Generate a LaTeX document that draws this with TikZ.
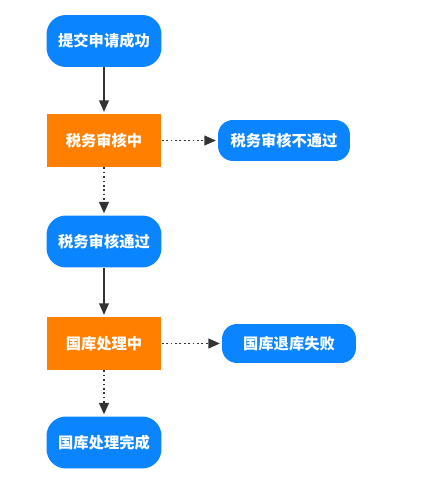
\documentclass[tikz,border=0pt]{standalone}
\usepackage{fontspec}
\newfontfamily\cjk{Noto Sans CJK SC}
\usetikzlibrary{arrows.meta}
\definecolor{stateblue}{HTML}{0A84FF}
\definecolor{steporange}{HTML}{FF8000}
\definecolor{flowgray}{HTML}{333333}
\tikzset{
  state/.style={fill=stateblue, text=white, rounded corners=11pt, inner sep=0pt,
    minimum width=2.3cm, minimum height=1.04cm, font=\cjk\bfseries\fontsize{8.7}{10}\selectfont},
  endstate/.style={state, rounded corners=8.5pt, minimum height=0.8cm},
  stepbox/.style={fill=steporange, text=white, inner sep=0pt,
    minimum width=2.3cm, minimum height=1.06cm, font=\cjk\bfseries\fontsize{8.7}{10}\selectfont},
  flow/.style={draw=flowgray, line width=0.75pt, -{Triangle[length=6.5pt,width=5.5pt]}, shorten >=1pt},
  maybe/.style={flow, line width=1pt, dash pattern=on 1pt off 1.5pt}
}
\begin{document}
\begin{tikzpicture}[x=0.02cm,y=-0.02cm]
\useasboundingbox (0,0) rectangle (431,496);
\node[state] (submitted) at (104,41) {提交申请成功};
\node[stepbox] (taxcheck) at (104,140.5) {税务审核中};
\node[endstate, minimum width=2.64cm, minimum height=0.82cm] (taxfail) at (284,140.5) {税务审核不通过};
\node[state] (taxpass) at (104,241.5) {税务审核通过};
\node[stepbox] (treasury) at (104,343.5) {国库处理中};
\node[endstate, minimum width=2.68cm, minimum height=0.78cm] (refundfail) at (289,343.5) {国库退库失败};
\node[state] (done) at (104,442.5) {国库处理完成};
% main line
\draw[flow] (submitted) -- (taxcheck);
\draw[maybe] (taxcheck) -- (taxpass);
\draw[flow] (taxpass) -- (treasury);
\draw[maybe] (treasury) -- (done);
% side exits
\draw[maybe] (taxcheck) -- (taxfail);
\draw[maybe] (treasury) -- (refundfail);
\end{tikzpicture}
\end{document}
